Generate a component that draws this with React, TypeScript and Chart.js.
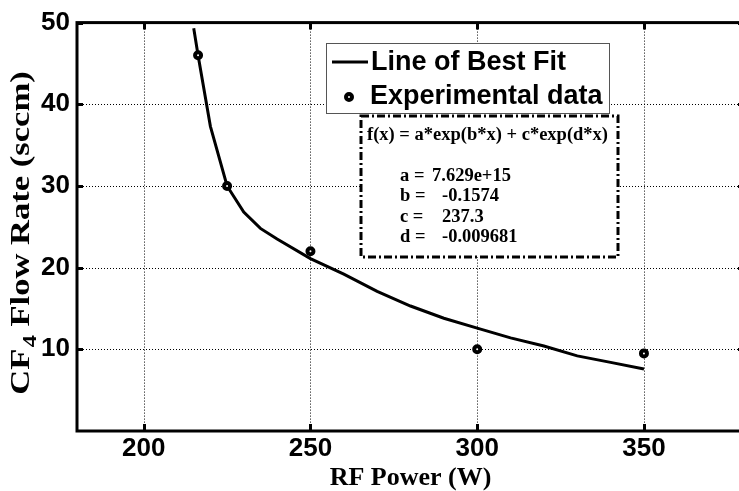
import React, { useEffect, useRef } from 'react';
import { Chart, registerables } from 'chart.js';

Chart.register(...registerables);

// ---- data ----
const fitX = [215, 216.3, 220, 225, 230, 235, 240, 250, 260, 270, 280, 290, 300, 310, 320, 330, 340, 350];
const fitY = [49.3, 46, 37.3, 30, 26.8, 24.8, 23.5, 21.1, 19.2, 17.1, 15.3, 13.8, 12.6, 11.4, 10.4, 9.2, 8.4, 7.6];
const expX = [216.3, 225, 250, 300, 350];
const expY = [46, 30, 22, 10, 9.5];
const xTicks = [200, 250, 300, 350];
const yTicks = [10, 20, 30, 40, 50];
const fitLabel = 'Line of Best Fit';
const expLabel = 'Experimental data';
const xTitle = 'RF Power (W)';
const yTitleMain = 'CF';
const yTitleSub = '4';
const yTitleRest = ' Flow Rate (sccm)';
const fitEquation = 'f(x) = a*exp(b*x) + c*exp(d*x)';
const coefNames = ['a =', 'b =', 'c =', 'd ='];
const coefValues = ['7.629e+15', '-0.1574', '237.3', '-0.009681'];

const SANS = '"Liberation Sans", Arial, sans-serif';
const SERIF = '"Liberation Serif", "Times New Roman", serif';

function drawMarker(ctx: CanvasRenderingContext2D, x: number, y: number) {
  ctx.save();
  ctx.beginPath();
  ctx.arc(x, y, 3, 0, Math.PI * 2);
  ctx.fillStyle = '#fff';
  ctx.fill();
  ctx.lineWidth = 4;
  ctx.strokeStyle = '#000';
  ctx.stroke();
  ctx.restore();
}

const decor = {
  id: 'decor',
  beforeDatasetsDraw(chart: any) {
    const { ctx, chartArea: a, scales } = chart;
    const x = scales.x;
    const y = scales.y;
    ctx.save();
    // dotted grid
    ctx.strokeStyle = '#000';
    ctx.lineWidth = 1;
    ctx.setLineDash([1, 2]);
    ctx.beginPath();
    xTicks.forEach((v) => {
      const px = Math.round(x.getPixelForValue(v)) + 0.5;
      ctx.moveTo(px, a.top);
      ctx.lineTo(px, a.bottom);
    });
    yTicks.forEach((v) => {
      if (v >= 50) return;
      const py = Math.round(y.getPixelForValue(v)) + 0.5;
      ctx.moveTo(a.left, py);
      ctx.lineTo(a.right, py);
    });
    ctx.stroke();
    ctx.setLineDash([]);
    // axes box
    ctx.lineWidth = 3;
    ctx.strokeRect(a.left, a.top, a.right - a.left, a.bottom - a.top);
    // inward ticks
    ctx.beginPath();
    xTicks.forEach((v) => {
      const px = Math.round(x.getPixelForValue(v)) + 0.5;
      ctx.moveTo(px, a.bottom);
      ctx.lineTo(px, a.bottom - 7);
      ctx.moveTo(px, a.top);
      ctx.lineTo(px, a.top + 7);
    });
    yTicks.forEach((v) => {
      const py = Math.round(y.getPixelForValue(v)) + 0.5;
      ctx.moveTo(a.left, py);
      ctx.lineTo(a.left + 6, py);
      ctx.moveTo(a.right, py);
      ctx.lineTo(a.right - 6, py);
    });
    ctx.stroke();
    ctx.restore();
  },
  afterDraw(chart: any) {
    const { ctx, chartArea: a } = chart;
    ctx.save();
    // ---- legend ----
    ctx.fillStyle = '#fff';
    ctx.fillRect(326.5, 43.5, 283, 70);
    ctx.strokeStyle = '#555';
    ctx.lineWidth = 1;
    ctx.strokeRect(326.5, 43.5, 283, 70);
    ctx.strokeStyle = '#000';
    ctx.lineWidth = 3;
    ctx.beginPath();
    ctx.moveTo(332, 62);
    ctx.lineTo(368, 62);
    ctx.stroke();
    drawMarker(ctx, 349, 97);
    ctx.fillStyle = '#000';
    ctx.font = `bold 27px ${SANS}`;
    ctx.textBaseline = 'middle';
    ctx.textAlign = 'left';
    ctx.fillText(fitLabel, 371, 63);
    ctx.fillText(expLabel, 370, 97);

    // ---- fit annotation ----
    ctx.fillStyle = '#fff';
    ctx.fillRect(361, 116, 257, 141);
    ctx.strokeStyle = '#000';
    ctx.lineWidth = 3;
    ctx.setLineDash([8, 3, 2, 3]);
    ctx.strokeRect(361, 116, 257, 141);
    ctx.setLineDash([]);
    ctx.fillStyle = '#000';
    ctx.font = `bold 18.5px ${SERIF}`;
    ctx.fillText(fitEquation, 367, 135);
    const rowsY = [176, 196.5, 217, 237.5];
    const valX = [432, 442, 442, 442];
    coefNames.forEach((n, i) => {
      ctx.fillText(n, 400, rowsY[i]);
      ctx.fillText(coefValues[i], valX[i], rowsY[i]);
    });

    // ---- axis titles ----
    ctx.textBaseline = 'alphabetic';
    ctx.font = `bold 26px ${SERIF}`;
    ctx.textAlign = 'center';
    ctx.fillText(xTitle, (a.left + a.right) / 2, 485);

    ctx.save();
    ctx.translate(29, 233);
    ctx.rotate(-Math.PI / 2);
    ctx.scale(1.28, 1);
    ctx.textAlign = 'left';
    ctx.font = `bold 27px ${SERIF}`;
    const w1 = ctx.measureText(yTitleMain).width;
    const w3 = ctx.measureText(yTitleRest).width;
    ctx.font = `bold 19px ${SERIF}`;
    const w2 = ctx.measureText(yTitleSub).width;
    const start = -(w1 + w2 + w3 + 1) / 2;
    ctx.font = `bold 27px ${SERIF}`;
    ctx.fillText(yTitleMain, start, 0);
    ctx.font = `bold 19px ${SERIF}`;
    ctx.fillText(yTitleSub, start + w1 + 1, 7);
    ctx.font = `bold 27px ${SERIF}`;
    ctx.fillText(yTitleRest, start + w1 + w2 + 1, 0);
    ctx.restore();

    ctx.restore();
  },
};

export default function App() {
  const ref = useRef<HTMLCanvasElement | null>(null);
  useEffect(() => {
    if (!ref.current) return;
    const chart = new Chart(ref.current, {
      type: 'scatter',
      data: {
        datasets: [
          {
            label: expLabel,
            data: expX.map((x, i) => ({ x, y: expY[i] })),
            showLine: false,
            pointStyle: 'circle',
            pointRadius: 3,
            pointBorderWidth: 4,
            pointBackgroundColor: '#fff',
            pointBorderColor: '#000',
            order: 0,
          },
          {
            label: fitLabel,
            data: fitX.map((x, i) => ({ x, y: fitY[i] })),
            showLine: true,
            borderColor: '#000',
            borderWidth: 3,
            pointRadius: 0,
            tension: 0,
            order: 1,
          },
        ],
      },
      options: {
        responsive: false,
        animation: false,
        devicePixelRatio: 1,
        layout: { padding: { left: 0, top: 19, right: 16, bottom: 0 } },
        plugins: { legend: { display: false }, tooltip: { enabled: false } },
        scales: {
          x: {
            type: 'linear',
            min: 180,
            max: 380,
            afterBuildTicks: (s: any) => {
              s.ticks = xTicks.map((v) => ({ value: v }));
            },
            afterFit: (s: any) => {
              s.height = 60;
            },
            grid: { display: false, drawTicks: false },
            border: { display: false },
            ticks: {
              color: '#000',
              padding: 2,
              maxRotation: 0,
              font: { family: SANS, size: 26, weight: 'bold' },
            },
          },
          y: {
            type: 'linear',
            min: 0,
            max: 50,
            afterBuildTicks: (s: any) => {
              s.ticks = yTicks.map((v) => ({ value: v }));
            },
            afterFit: (s: any) => {
              s.width = 77;
            },
            grid: { display: false, drawTicks: false },
            border: { display: false },
            ticks: {
              color: '#000',
              padding: 7,
              font: { family: SANS, size: 26, weight: 'bold' },
            },
          },
        },
      },
      plugins: [decor],
    } as any);
    return () => chart.destroy();
  }, []);
  return (
    <div
      style={{
        position: 'fixed',
        left: 0,
        top: 0,
        width: 739,
        height: 491,
        overflow: 'hidden',
        background: '#fff',
      }}
    >
      <canvas ref={ref} width={760} height={491} style={{ display: 'block' }} />
    </div>
  );
}
